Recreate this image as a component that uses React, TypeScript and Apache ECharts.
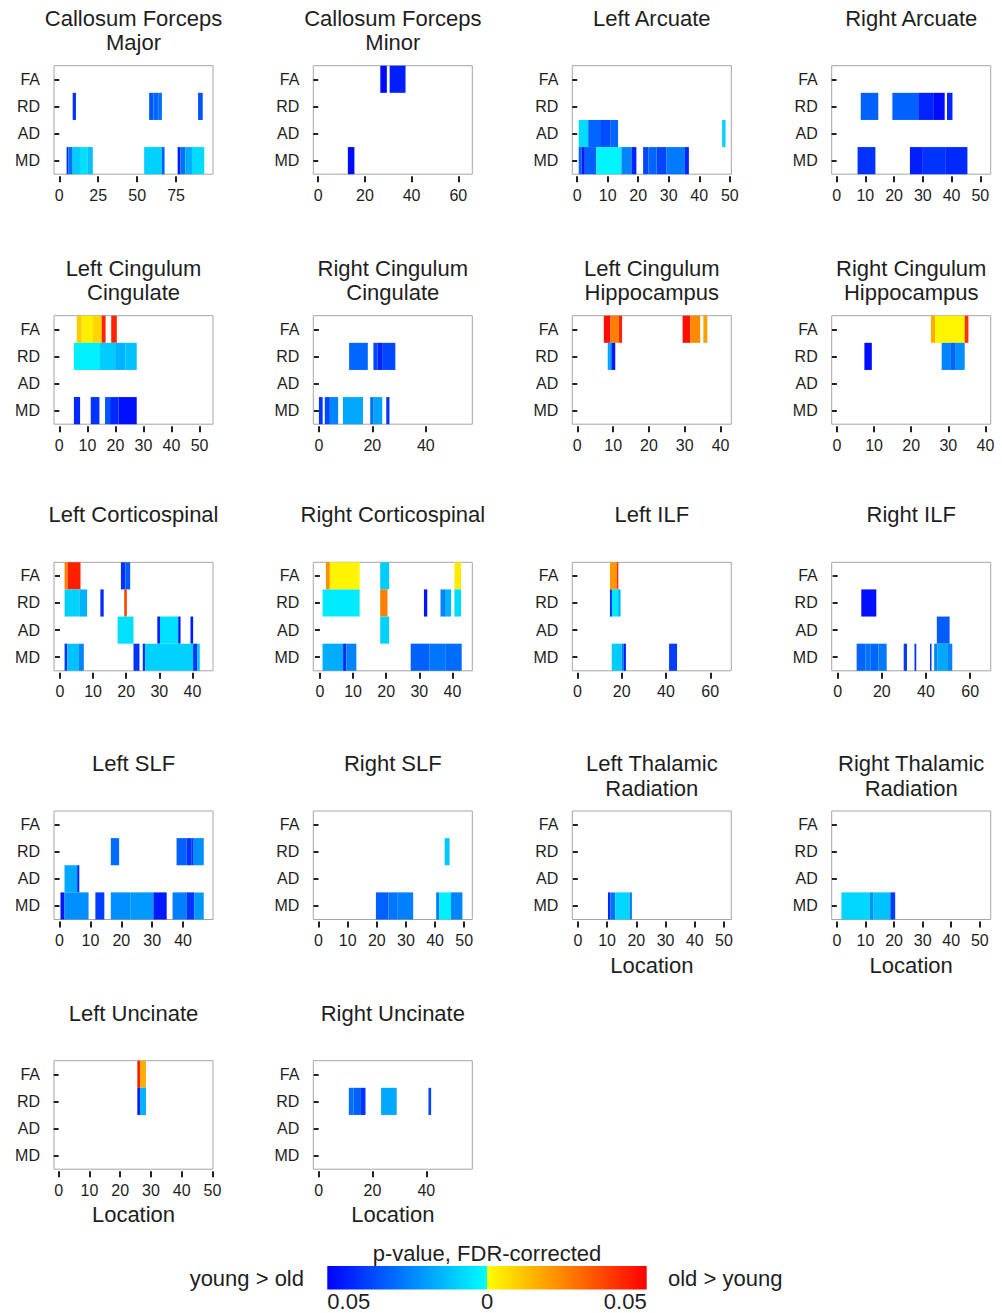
import React, { useEffect, useRef } from "react";
import * as echarts from "echarts";

// ---------- data ----------
const ROW_LABELS = ["FA", "RD", "AD", "MD"];

const panelTitles: string[][] = [
  ["Callosum Forceps", "Major"],
  ["Callosum Forceps", "Minor"],
  ["Left Arcuate"],
  ["Right Arcuate"],
  ["Left Cingulum", "Cingulate"],
  ["Right Cingulum", "Cingulate"],
  ["Left Cingulum", "Hippocampus"],
  ["Right Cingulum", "Hippocampus"],
  ["Left Corticospinal"],
  ["Right Corticospinal"],
  ["Left ILF"],
  ["Right ILF"],
  ["Left SLF"],
  ["Right SLF"],
  ["Left Thalamic", "Radiation"],
  ["Right Thalamic", "Radiation"],
  ["Left Uncinate"],
  ["Right Uncinate"],
];

const xMin = [-3.4, -2.1, -1.6, -1.7, -1.9, -2.1, -1.4, -1.4, -1.8, -2.0, -2.3, -2.7, -1.8, -1.8, -1.9, -1.8, -1.5, -2.0];
const xMax = [98.7, 66, 50.5, 53.6, 54.8, 57.4, 43, 41.4, 46.2, 46, 69.5, 69.3, 49.7, 52.8, 52.5, 53.8, 50.2, 57.1];

const ticks25 = [0, 25, 50, 75];
const ticks20 = [0, 20, 40, 60];
const ticks20s = [0, 20, 40];
const ticks10to50 = [0, 10, 20, 30, 40, 50];
const ticks10to40 = [0, 10, 20, 30, 40];
const xTicks = [
  ticks25, ticks20, ticks10to50, ticks10to50,
  ticks10to50, ticks20s, ticks10to40, ticks10to40,
  ticks10to40, ticks10to40, ticks20, ticks20,
  ticks10to40, ticks10to50, ticks10to50, ticks10to50,
  ticks10to50, ticks20s,
];

const showLocation = [14, 15, 16, 17];

// segments: [row (0=FA,1=RD,2=AD,3=MD), start, end, signed p (neg: young>old, pos: old>young)]
const cfMajor = [
  [1, 8.6, 10.7, -0.04], [1, 57.7, 60.5, -0.033], [1, 60.5, 63.5, -0.03], [1, 63.5, 65.9, -0.028],
  [1, 89.1, 92.1, -0.034],
  [3, 4.7, 5.8, -0.042], [3, 5.8, 8.6, -0.028], [3, 8.6, 13.3, -0.01], [3, 13.3, 18.0, -0.006],
  [3, 18.0, 21.5, -0.012], [3, 54.5, 65.9, -0.009], [3, 65.9, 67.6, -0.032], [3, 76.0, 77.7, -0.045],
  [3, 77.7, 80.9, -0.028], [3, 80.9, 85.2, -0.016], [3, 85.2, 93.1, -0.007],
];
const cfMinor = [
  [0, 26.6, 29.4, -0.048], [0, 30.6, 37.4, -0.044], [3, 12.7, 15.5, -0.048],
];
const leftArcuate = [
  [2, 0.5, 3.6, -0.007], [2, 3.6, 7.5, -0.03], [2, 7.5, 11, -0.035], [2, 11, 13.4, -0.03],
  [2, 47.5, 48.6, -0.009],
  [3, 0.5, 1.4, -0.03], [3, 1.4, 2.5, -0.045], [3, 2.5, 6.3, -0.031], [3, 6.3, 14.5, -0.002],
  [3, 14.5, 17.8, -0.024], [3, 17.8, 19.4, -0.043], [3, 21.6, 23.3, -0.036], [3, 23.3, 26.0, -0.03],
  [3, 26.0, 29.3, -0.036], [3, 29.3, 35.3, -0.026], [3, 35.3, 36.6, -0.043],
];
const rightArcuate = [
  [1, 8.4, 14.5, -0.031], [1, 19.4, 28.4, -0.031], [1, 28.4, 33.6, -0.043], [1, 33.6, 37.6, -0.048],
  [1, 38.4, 40.3, -0.043],
  [3, 7.3, 13.5, -0.04], [3, 25.5, 30, -0.044], [3, 30, 38, -0.04], [3, 38, 45.5, -0.042],
];
const leftCingCing = [
  [0, 6.2, 8, 0.01], [0, 8, 12, 0.003], [0, 12, 15.1, 0.008], [0, 15.1, 16.5, 0.043], [0, 18.5, 20.5, 0.043],
  [1, 5.2, 14.5, -0.003], [1, 14.5, 19.9, -0.01], [1, 19.9, 23.5, -0.015], [1, 23.5, 27.6, -0.012],
  [3, 5.2, 7.4, -0.042], [3, 11.2, 14.3, -0.04], [3, 16.3, 18.1, -0.033], [3, 18.1, 21.1, -0.042],
  [3, 21.1, 27.6, -0.047],
];
const rightCingCing = [
  [1, 11.3, 18.3, -0.03], [1, 20.4, 22, -0.036], [1, 22, 23.9, -0.043], [1, 23.9, 28.6, -0.036],
  [3, 0, 1.4, -0.04], [3, 2.2, 4.1, -0.036], [3, 4.1, 7.2, -0.024], [3, 9.0, 16.5, -0.017],
  [3, 19.2, 20.5, -0.028], [3, 20.5, 23.7, -0.018], [3, 25.2, 26.4, -0.04],
];
const leftCingHipp = [
  [0, 7.4, 9.3, 0.047], [0, 9.3, 11.6, 0.025], [0, 11.6, 12.5, 0.043], [0, 29.4, 31.5, 0.047],
  [0, 31.5, 34.3, 0.023], [0, 35.2, 36.3, 0.019],
  [1, 8.5, 9.5, -0.017], [1, 9.5, 10.6, -0.045],
];
const rightCingHipp = [
  [0, 25.3, 26.4, 0.016], [0, 26.4, 34.4, 0.002], [0, 34.4, 35.4, 0.04],
  [1, 7.4, 9.4, -0.047], [1, 28.2, 30.5, -0.024], [1, 30.5, 32, -0.03], [1, 32, 34.4, -0.022],
];
const leftCST = [
  [0, 1.4, 2.4, 0.025], [0, 2.4, 6.2, 0.044], [0, 18.4, 19.8, -0.04], [0, 19.8, 21.2, -0.032],
  [1, 1.4, 6.0, -0.009], [1, 6.0, 8.2, -0.015], [1, 12.2, 13.2, -0.042], [1, 19.4, 20.2, 0.036],
  [2, 17.4, 22.2, -0.006], [2, 29.4, 30.2, -0.045], [2, 30.2, 35.7, -0.006], [2, 35.7, 36.4, -0.045],
  [2, 39.4, 40.2, -0.045],
  [3, 1.4, 2.2, -0.04], [3, 2.2, 5.7, -0.012], [3, 5.7, 7.2, -0.024], [3, 22.2, 24.0, -0.04],
  [3, 25.0, 25.7, -0.04], [3, 25.7, 40.2, -0.009], [3, 40.2, 41.4, -0.04], [3, 41.4, 42.2, -0.012],
];
const rightCST = [
  [0, 1.8, 3.0, 0.022], [0, 3.0, 12.0, 0.002], [0, 18.2, 20.9, -0.01], [0, 40.6, 42.6, 0.004],
  [1, 0.8, 12.0, -0.004], [1, 18.2, 20.4, 0.025], [1, 31.4, 32.4, -0.046], [1, 36.4, 38, -0.024],
  [1, 38, 39.6, -0.015], [1, 40.6, 42.6, -0.007],
  [2, 18.2, 20.9, -0.009],
  [3, 0.8, 7.0, -0.016], [3, 7.0, 8.0, -0.042], [3, 8.0, 11.0, -0.024], [3, 27.4, 33, -0.031],
  [3, 33, 38, -0.027], [3, 38, 42.8, -0.029],
];
const leftILF = [
  [0, 14.7, 17.7, 0.02], [0, 17.7, 18.5, 0.04],
  [1, 14.7, 15.6, -0.04], [1, 15.6, 18.4, -0.005], [1, 18.4, 19.5, -0.015],
  [3, 15.5, 20.0, -0.01], [3, 20.0, 21.0, -0.025], [3, 21.0, 21.9, -0.045], [3, 41.4, 45.0, -0.038],
];
const rightILF = [
  [1, 10.7, 17.5, -0.047],
  [2, 44.9, 50.7, -0.032],
  [3, 8.6, 12.5, -0.03], [3, 12.5, 15, -0.027], [3, 15, 18.5, -0.03], [3, 18.5, 22.2, -0.026],
  [3, 29.9, 31.4, -0.038], [3, 34.8, 35.6, -0.04], [3, 41.8, 42.5, -0.04], [3, 43.7, 45.2, -0.024],
  [3, 45.2, 49.6, -0.017], [3, 49.6, 51.9, -0.024],
];
const leftSLF = [
  [1, 16.6, 19.3, -0.029], [1, 37.9, 41.1, -0.031], [1, 41.1, 42.7, -0.04], [1, 42.7, 43.2, -0.046],
  [1, 43.2, 46.7, -0.022],
  [2, 1.6, 5.7, -0.017], [2, 5.7, 6.4, -0.042],
  [3, 0.3, 1.6, -0.046], [3, 1.6, 9.4, -0.022], [3, 11.6, 14.5, -0.038], [3, 16.6, 22.9, -0.022],
  [3, 22.9, 30.4, -0.02], [3, 30.4, 34.7, -0.045], [3, 36.6, 41.1, -0.025], [3, 41.1, 43.6, -0.04],
  [3, 43.6, 46.7, -0.02],
];
const rightSLF = [
  [1, 43.3, 45.0, -0.011],
  [3, 19.7, 24, -0.031], [3, 24, 27, -0.027], [3, 27, 32.5, -0.025], [3, 40.4, 41.5, -0.025],
  [3, 41.5, 45.5, -0.003], [3, 45.5, 49.4, -0.024],
];
const leftThal = [
  [3, 10.3, 11.1, -0.042], [3, 11.1, 12.8, -0.028], [3, 12.8, 17.7, -0.008], [3, 17.7, 18.5, -0.025],
];
const rightThal = [
  [3, 1.6, 11.5, -0.008], [3, 11.5, 12.7, -0.022], [3, 12.7, 18.7, -0.012], [3, 18.7, 20.4, -0.038],
];
const leftUnc = [
  [0, 25.6, 26.5, 0.045], [0, 26.5, 28.4, 0.016],
  [1, 25.6, 26.5, -0.045], [1, 26.5, 28.4, -0.015],
];
const rightUnc = [
  [1, 11.2, 13, -0.028], [1, 13, 15.7, -0.031], [1, 15.7, 17.4, -0.04], [1, 23.2, 29.0, -0.017],
  [1, 40.8, 41.8, -0.036],
];

const panelData = [
  cfMajor, cfMinor, leftArcuate, rightArcuate,
  leftCingCing, rightCingCing, leftCingHipp, rightCingHipp,
  leftCST, rightCST, leftILF, rightILF,
  leftSLF, rightSLF, leftThal, rightThal,
  leftUnc, rightUnc,
];

const colorbarTicks = ["0.05", "0", "0.05"];

// ---------- layout ----------
const COL_LEFT = [54, 313.3, 572.3, 831.7];
const ROW_TOP = [65.7, 315.7, 562.3, 811, 1060.7];
const GRID_W = 159;
const GRID_H = 108.5;
const FONT = "'Liberation Sans', Arial, Helvetica, sans-serif";
const TEXT = "#1e1e1e";
const PMAX = 0.05;

function colorOf(p: number): string {
  if (p < 0) {
    const t = Math.min(1, -p / PMAX);
    return `rgb(0,${Math.round(255 * (1 - t))},255)`;
  }
  const t = Math.min(1, p / PMAX);
  return `rgb(255,${Math.round(255 * (1 - t))},0)`;
}

function buildOption() {
  const grids: any[] = [];
  const xAxes: any[] = [];
  const yAxes: any[] = [];
  const series: any[] = [];
  const graphics: any[] = [];

  panelData.forEach((data, i) => {
    const col = i % 4;
    const row = Math.floor(i / 4);
    const left = COL_LEFT[col];
    const top = ROW_TOP[row];
    grids.push({
      left, top, width: GRID_W, height: GRID_H,
      show: true, borderColor: "#a6a6a6", borderWidth: 1, backgroundColor: "#fff",
    });
    xAxes.push({
      type: "value", gridIndex: i, min: xMin[i], max: xMax[i], offset: 2,
      axisLine: { show: false },
      splitLine: { show: false },
      axisTick: { show: true, length: 6, lineStyle: { color: "#222", width: 2 }, customValues: xTicks[i] },
      axisLabel: { customValues: xTicks[i], color: TEXT, fontSize: 16, fontFamily: FONT, margin: 11, showMinLabel: true, showMaxLabel: true },
    });
    yAxes.push({
      type: "category", gridIndex: i, data: ROW_LABELS, inverse: true, offset: 4,
      axisLine: { show: false },
      splitLine: { show: false },
      axisTick: { show: true, alignWithLabel: true, length: 5, lineStyle: { color: "#222", width: 2 } },
      axisLabel: { color: TEXT, fontSize: 16, fontFamily: FONT, margin: 10 },
    });
    series.push({
      type: "custom",
      xAxisIndex: i,
      yAxisIndex: i,
      encode: { x: [1, 2], y: 0 },
      data,
      renderItem: (params: any, api: any) => {
        const r = api.value(0);
        const s = api.value(1);
        const e = api.value(2);
        const p = api.value(3);
        const a = api.coord([s, r]);
        const b = api.coord([e, r]);
        const h = api.size([0, 1])[1];
        return {
          type: "rect",
          shape: { x: a[0], y: a[1] - h / 2, width: b[0] - a[0], height: h },
          style: { fill: colorOf(p), stroke: null },
        };
      },
    });

    const cx = left + GRID_W / 2;
    const lines = panelTitles[i];
    lines.forEach((ln, k) => {
      graphics.push({
        type: "text",
        x: cx,
        y: top - 47.5 + k * 24.5,
        style: { text: ln, font: `22px ${FONT}`, fill: TEXT, textAlign: "center", textVerticalAlign: "middle" },
      });
    });
    if (showLocation.includes(i)) {
      graphics.push({
        type: "text",
        x: cx,
        y: top + 154,
        style: { text: "Location", font: `22px ${FONT}`, fill: TEXT, textAlign: "center", textVerticalAlign: "middle" },
      });
    }
  });

  // colorbar
  const barL = 327.3, barR = 646.7, barT = 1266, barB = 1289.5;
  const mid = (barL + barR) / 2;
  graphics.push({
    type: "rect",
    shape: { x: barL, y: barT, width: mid - barL, height: barB - barT },
    style: {
      fill: { type: "linear", x: 0, y: 0, x2: 1, y2: 0, colorStops: [
        { offset: 0, color: colorOf(-PMAX) }, { offset: 1, color: colorOf(-0.0000001) }] },
    },
  });
  graphics.push({
    type: "rect",
    shape: { x: mid, y: barT, width: barR - mid, height: barB - barT },
    style: {
      fill: { type: "linear", x: 0, y: 0, x2: 1, y2: 0, colorStops: [
        { offset: 0, color: colorOf(0.0000001) }, { offset: 1, color: colorOf(PMAX) }] },
    },
  });
  const tickPos = [barL, mid, barR];
  const tickAlign = ["left", "center", "right"];
  colorbarTicks.forEach((t, k) => {
    graphics.push({
      type: "text", x: tickPos[k], y: 1301.5,
      style: { text: t, font: `22px ${FONT}`, fill: TEXT, textAlign: tickAlign[k], textVerticalAlign: "middle" },
    });
  });
  graphics.push({
    type: "text", x: mid, y: 1253,
    style: { text: "p-value, FDR-corrected", font: `22px ${FONT}`, fill: TEXT, textAlign: "center", textVerticalAlign: "middle" },
  });
  graphics.push({
    type: "text", x: 304, y: 1278,
    style: { text: "young > old", font: `22px ${FONT}`, fill: TEXT, textAlign: "right", textVerticalAlign: "middle" },
  });
  graphics.push({
    type: "text", x: 668, y: 1278,
    style: { text: "old > young", font: `22px ${FONT}`, fill: TEXT, textAlign: "left", textVerticalAlign: "middle" },
  });

  return {
    animation: false,
    backgroundColor: "#ffffff",
    grid: grids,
    xAxis: xAxes,
    yAxis: yAxes,
    series,
    graphic: graphics,
  };
}

export default function App() {
  const ref = useRef<HTMLDivElement>(null);
  useEffect(() => {
    document.body.style.margin = "0";
    if (!ref.current) return;
    const chart = echarts.init(ref.current, undefined, { renderer: "svg" });
    chart.setOption(buildOption() as any);
    return () => chart.dispose();
  }, []);
  return (
    <div
      ref={ref}
      style={{ position: "absolute", left: 0, top: 0, width: 1002, height: 1313 }}
    />
  );
}
